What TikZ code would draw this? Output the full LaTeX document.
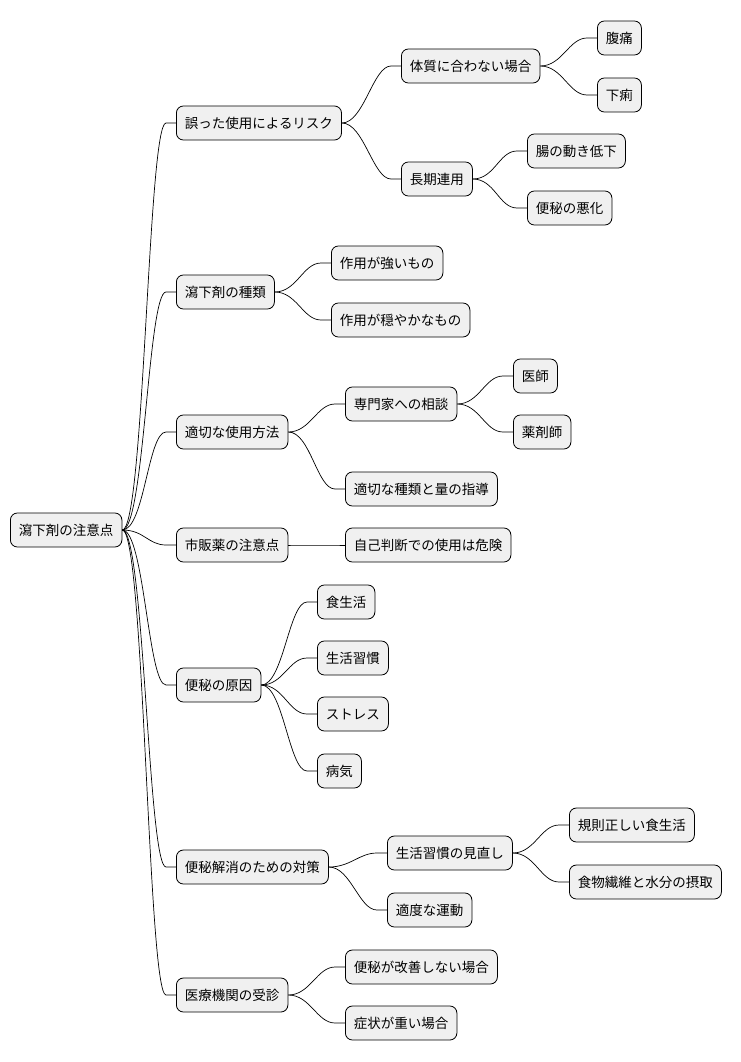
\documentclass[tikz,border=0pt]{standalone}
\usepackage{fontspec}
\setmainfont{Noto Sans CJK JP}
\begin{document}
\begin{tikzpicture}[x=1pt,y=-1pt,
  box/.style={draw=black,fill=black!6,rounded corners=7pt,line width=0.8pt,minimum height=34pt,inner xsep=8.5pt,inner ysep=0pt,anchor=west,font=\fontsize{13.5}{14}\selectfont},
  link/.style={line width=0.7pt}]
\useasboundingbox (0,0) rectangle (740,1062);
\node[box] (r) at (10,530) {瀉下剤の注意点};
\node[box] (a) at (176,123) {誤った使用によるリスク};
\node[box] (b) at (176,292) {瀉下剤の種類};
\node[box] (c) at (176,432) {適切な使用方法};
\node[box] (d) at (176,545) {市販薬の注意点};
\node[box] (e) at (176,685) {便秘の原因};
\node[box] (f) at (176,867) {便秘解消のための対策};
\node[box] (g) at (176,995) {医療機関の受診};
\node[box] (a1) at (401,66) {体質に合わない場合};
\node[box] (a2) at (401,179) {長期連用};
\node[box] (b1) at (331,263) {作用が強いもの};
\node[box] (b2) at (331,320) {作用が穏やかなもの};
\node[box] (c1) at (345,404) {専門家への相談};
\node[box] (c2) at (345,489) {適切な種類と量の指導};
\node[box] (d1) at (345,545) {自己判断での使用は危険};
\node[box] (e1) at (317,602) {食生活};
\node[box] (e2) at (317,658) {生活習慣};
\node[box] (e3) at (317,714) {ストレス};
\node[box] (e4) at (317,771) {病気};
\node[box] (f1) at (387,853) {生活習慣の見直し};
\node[box] (f2) at (387,910) {適度な運動};
\node[box] (g1) at (345,967) {便秘が改善しない場合};
\node[box] (g2) at (345,1023) {症状が重い場合};
\node[box] (a11) at (597,38) {腹痛};
\node[box] (a12) at (597,95) {下痢};
\node[box] (a21) at (527,151) {腸の動き低下};
\node[box] (a22) at (527,208) {便秘の悪化};
\node[box] (c11) at (513,376) {医師};
\node[box] (c12) at (513,432) {薬剤師};
\node[box] (f11) at (569,825) {規則正しい食生活};
\node[box] (f12) at (569,882) {食物繊維と水分の摂取};
\foreach \p/\c in {r/a,r/b,r/c,r/d,r/e,r/f,r/g,a/a1,a/a2,b/b1,b/b2,c/c1,c/c2,d/d1,e/e1,e/e2,e/e3,e/e4,f/f1,f/f2,g/g1,g/g2,a1/a11,a1/a12,a2/a21,a2/a22,c1/c11,c1/c12,f1/f11,f1/f12}{
  \draw[link] (\p.east) .. controls ([xshift=22]\p.east) and ([xshift=-28]\c.west) .. ([xshift=-10]\c.west) -- (\c.west);
}
\end{tikzpicture}
\end{document}
